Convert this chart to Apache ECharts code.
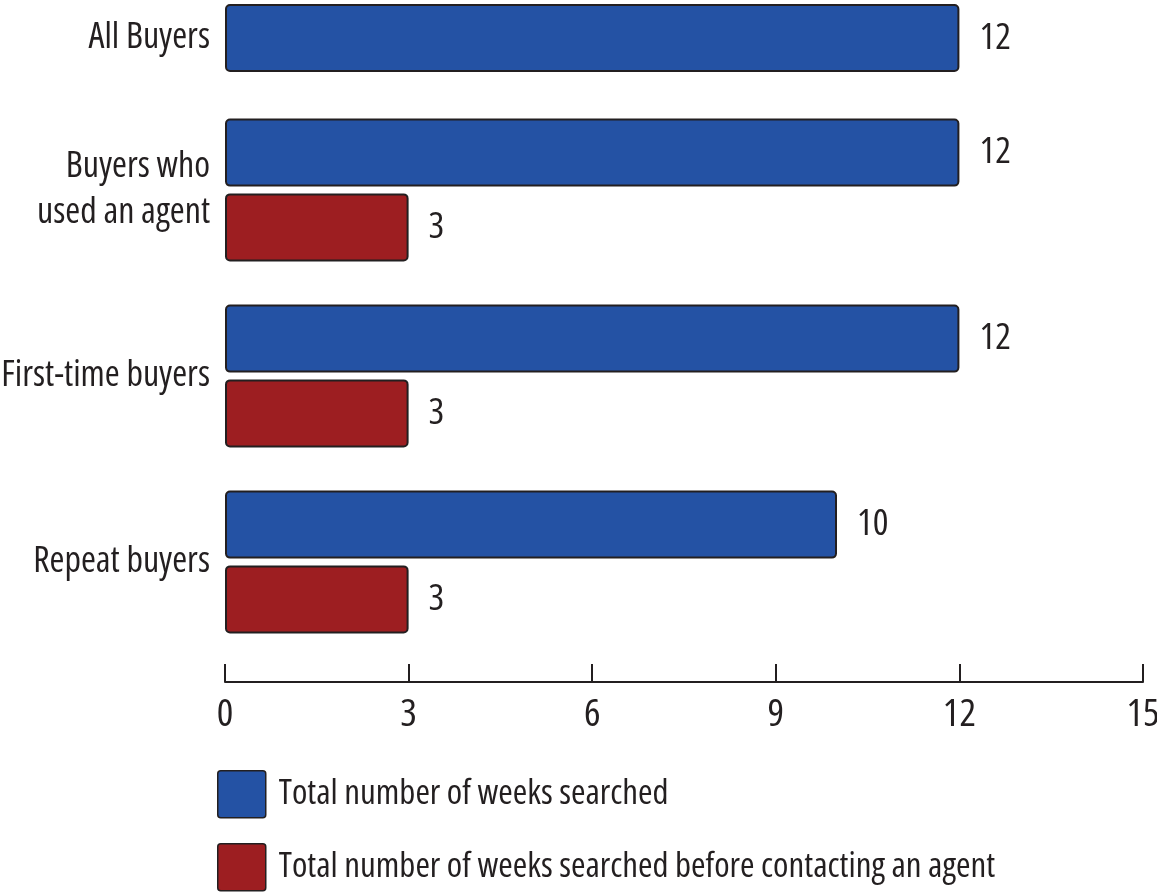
<!DOCTYPE html>
<html>
<head>
<meta charset="utf-8">
<script src="https://cdn.jsdelivr.net/npm/echarts@6/dist/echarts.min.js"></script>
<style>
html,body{margin:0;padding:0;background:#fff;}
#chart{width:1157px;height:893px;}
</style>
</head>
<body>
<div id="chart"></div>
<script>
const topCategory = ['All Buyers'];
const topTotalWeeks = [12];
const categories = ['Buyers who\nused an agent', 'First-time buyers', 'Repeat buyers'];
const totalWeeks = [12, 12, 10];
const weeksBeforeAgent = [3, 3, 3];
const seriesNames = ['Total number of weeks searched', 'Total number of weeks searched before contacting an agent'];
const xMin = 0, xMax = 15, xStep = 3;

const blue = '#2452a4', red = '#9d1e21', ink = '#231f20';
const font = "'Open Sans', 'Roboto Condensed', sans-serif";
const cond = 'condensed';

const barStyle = (c) => ({ color: c, borderColor: ink, borderWidth: 2, borderRadius: 4 });
const valLabel = { show: true, position: 'right', distance: 20, color: ink, fontFamily: font, fontStyle: cond, fontSize: 37 };
const legendIcon = 'path://M3,0 H45 Q48,0 48,3 V44 Q48,47 45,47 H3 Q0,47 0,44 V3 Q0,0 3,0 Z';

const chart = echarts.init(document.getElementById('chart'), null, { renderer: 'canvas' });
const legendBase = (name, top, color) => ({
  orient: 'vertical', left: 217, top: top, itemWidth: 48, itemHeight: 47, padding: 0,
  icon: legendIcon, data: [name], selectedMode: false,
  itemStyle: { color: color, borderColor: ink, borderWidth: 1.5 },
  textStyle: { color: ink, fontFamily: font, fontStyle: cond, fontSize: 35, padding: [0, 0, 0, 8] }
});
chart.setOption({
  animation: false,
  grid: [
    { left: 225, right: 14, top: 4, height: 68, outerBoundsMode: 'none', containLabel: false },
    { left: 225, right: 14, top: 97, height: 558, outerBoundsMode: 'none', containLabel: false }
  ],
  xAxis: [
    { gridIndex: 0, type: 'value', min: xMin, max: xMax, interval: xStep, show: false },
    { gridIndex: 1, type: 'value', min: xMin, max: xMax, interval: xStep, offset: 27,
      axisLine: { show: true, lineStyle: { color: ink, width: 2 } },
      axisTick: { show: true, inside: true, length: 18, lineStyle: { color: ink, width: 2 } },
      splitLine: { show: false },
      axisLabel: { color: ink, fontFamily: font, fontStyle: cond, fontSize: 39, margin: 13, hideOverlap: false, showMaxLabel: true, showMinLabel: true } }
  ],
  yAxis: [
    { gridIndex: 0, type: 'category', data: topCategory, inverse: true,
      axisLine: { show: false }, axisTick: { show: false },
      axisLabel: { color: ink, fontFamily: font, fontStyle: cond, fontSize: 36, margin: 15 } },
    { gridIndex: 1, type: 'category', data: categories, inverse: true,
      axisLine: { show: false }, axisTick: { show: false },
      axisLabel: { color: ink, fontFamily: font, fontStyle: cond, fontSize: 36, margin: 15, lineHeight: 46 } }
  ],
  legend: [
    legendBase(seriesNames[0], 770, blue),
    legendBase(seriesNames[1], 843, red)
  ],
  series: [
    { name: seriesNames[0], type: 'bar', xAxisIndex: 0, yAxisIndex: 0, data: topTotalWeeks,
      barWidth: 68, itemStyle: barStyle(blue), label: valLabel },
    { name: seriesNames[0], type: 'bar', xAxisIndex: 1, yAxisIndex: 1, data: totalWeeks,
      barWidth: 68, barGap: '10%', itemStyle: barStyle(blue), label: valLabel },
    { name: seriesNames[1], type: 'bar', xAxisIndex: 1, yAxisIndex: 1, data: weeksBeforeAgent,
      barWidth: 68, barGap: '10%', itemStyle: barStyle(red), label: valLabel }
  ]
});
</script>
</body>
</html>
